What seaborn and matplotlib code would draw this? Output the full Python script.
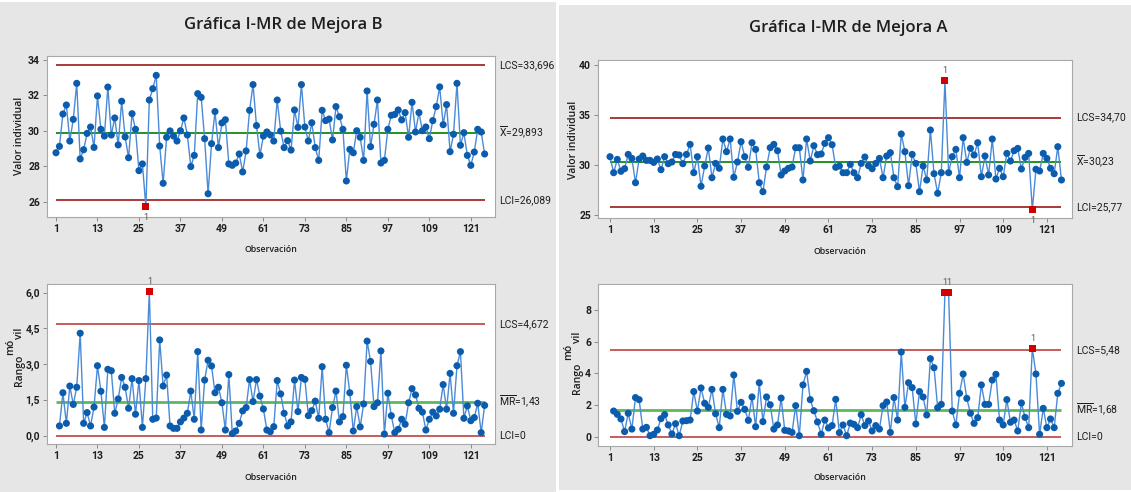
import numpy as np
import pandas as pd
import matplotlib
matplotlib.use("Agg")
import matplotlib.pyplot as plt
import matplotlib.font_manager as fm
import seaborn as sns
from matplotlib.patches import Rectangle

# ---------------- data ----------------
obs_ticks = [1, 13, 25, 37, 49, 61, 73, 85, 97, 109, 121]

# Mejora B - individual values (obs 1..125)
b_indiv = [28.77, 29.13, 30.95, 31.46, 29.43, 30.65, 32.68, 28.42, 28.94, 29.86,
           30.22, 29.07, 31.97, 30.09, 29.71, 32.47, 29.77, 30.73, 29.21, 31.67,
           29.66, 28.49, 30.97, 30.09, 27.76, 28.14, 25.73, 31.74, 32.38, 33.13,
           29.15, 27.05, 29.64, 30.00, 29.71, 29.43, 30.01, 30.73, 29.77, 27.99,
           28.62, 32.10, 31.89, 29.56, 26.46, 29.28, 31.09, 29.06, 30.45, 30.63,
           28.14, 28.06, 28.19, 28.70, 27.69, 28.87, 31.16, 32.61, 30.30, 28.62,
           29.71, 29.94, 29.77, 29.43, 31.74, 29.99, 29.06, 29.45, 28.92, 31.18,
           30.20, 32.61, 30.22, 29.43, 30.46, 29.06, 28.34, 31.16, 30.58, 30.67,
           29.49, 31.37, 30.80, 30.09, 27.18, 28.96, 28.77, 30.01, 29.64, 28.34,
           32.25, 29.11, 30.37, 31.74, 28.19, 28.34, 30.09, 30.88, 30.93, 31.18,
           30.62, 31.03, 29.64, 31.61, 29.94, 31.03, 30.01, 30.22, 29.56, 30.58,
           31.37, 32.48, 30.35, 31.48, 28.83, 29.81, 32.68, 29.19, 29.90, 28.62,
           28.06, 28.81, 30.09, 29.94, 28.70]

# Mejora B - moving ranges (obs 2..125)
b_mr = [0.42, 1.81, 0.53, 2.09, 1.32, 2.04, 4.30, 0.53, 0.98, 0.42,
        1.21, 2.94, 1.87, 0.36, 2.79, 2.73, 0.95, 1.55, 2.45, 2.04,
        1.16, 2.40, 0.91, 2.32, 0.36, 2.40, 6.04, 0.70, 0.75, 4.02,
        2.09, 2.55, 0.42, 0.32, 0.32, 0.59, 0.75, 0.95, 1.88, 0.70,
        3.53, 0.25, 2.34, 3.17, 2.93, 1.81, 2.04, 1.39, 0.25, 2.57,
        0.10, 0.21, 0.53, 1.05, 1.19, 2.36, 1.44, 2.36, 1.67, 1.13,
        0.25, 0.18, 0.39, 2.32, 1.76, 0.95, 0.42, 0.59, 2.34, 1.02,
        2.45, 2.37, 0.85, 1.06, 1.46, 0.74, 2.90, 0.70, 0.14, 1.19,
        1.88, 0.59, 0.81, 2.96, 1.81, 0.21, 1.23, 0.38, 1.34, 3.97,
        3.12, 1.23, 1.39, 3.56, 0.08, 1.79, 0.85, 0.14, 0.28, 0.70,
        0.49, 1.39, 1.98, 1.72, 1.16, 1.00, 0.25, 0.70, 1.00, 0.84,
        1.12, 2.15, 1.12, 2.62, 0.95, 2.94, 3.53, 0.74, 1.26, 0.64,
        0.77, 1.37, 0.14, 1.28]

# Mejora A - individual values (obs 1..125)
a_indiv = [30.80, 29.20, 30.53, 29.34, 29.60, 31.03, 30.63, 28.20, 30.57, 30.87,
           30.43, 30.43, 30.23, 30.57, 29.50, 30.80, 30.10, 30.27, 31.03, 30.97,
           30.10, 31.03, 32.03, 29.20, 30.80, 27.84, 29.87, 31.67, 28.70, 30.13,
           29.64, 32.57, 31.30, 32.57, 28.74, 30.27, 32.30, 30.80, 29.74, 32.20,
           31.53, 28.20, 27.30, 29.77, 31.70, 32.03, 31.40, 28.97, 29.37, 29.64,
           29.77, 31.70, 31.70, 28.47, 32.57, 30.37, 31.90, 31.00, 31.07, 32.13,
           32.70, 32.00, 29.74, 29.87, 29.20, 29.20, 30.03, 29.20, 28.70, 30.13,
           30.77, 29.90, 29.60, 30.13, 30.63, 28.70, 30.87, 31.20, 28.70, 27.80,
           33.07, 31.30, 27.90, 31.03, 30.13, 27.30, 29.87, 28.47, 33.47, 29.10,
           27.14, 29.20, 38.40, 29.20, 30.80, 31.53, 28.70, 32.70, 30.23, 31.63,
           30.97, 32.20, 28.80, 30.87, 28.97, 32.57, 28.57, 29.64, 28.80, 31.13,
           30.37, 31.40, 31.63, 29.57, 30.73, 31.13, 25.50, 29.54, 29.37, 31.13,
           30.63, 29.64, 29.10, 31.80, 28.47]

# Mejora A - moving ranges (obs 2..125)
a_mr = [1.62, 1.41, 1.12, 0.32, 1.48, 0.48, 2.47, 2.34, 0.48, 0.59,
        0.06, 0.15, 0.42, 1.14, 1.39, 0.74, 0.17, 0.82, 0.06, 0.99,
        1.01, 1.05, 2.85, 1.62, 3.08, 2.11, 1.85, 2.99, 1.45, 0.57,
        2.99, 1.41, 1.31, 3.90, 1.60, 2.17, 1.73, 1.03, 2.51, 0.63,
        3.41, 0.95, 2.51, 2.02, 0.48, 0.74, 2.44, 0.40, 0.36, 0.27,
        1.96, 0.06, 3.27, 4.13, 2.34, 1.64, 0.93, 0.15, 1.05, 0.55,
        0.70, 2.36, 0.25, 0.74, 0.06, 0.86, 0.78, 0.57, 1.39, 0.70,
        0.99, 0.36, 0.70, 0.48, 1.96, 2.19, 0.27, 2.47, 1.05, 5.35,
        1.85, 3.41, 3.10, 0.80, 2.85, 2.51, 1.37, 4.93, 4.36, 1.83,
        2.04, 9.13, 9.13, 1.62, 0.74, 2.74, 3.96, 2.42, 1.48, 0.84,
        1.20, 3.27, 2.04, 2.04, 3.58, 3.94, 1.05, 0.74, 2.34, 0.91,
        1.05, 0.36, 2.13, 1.22, 0.57, 5.60, 3.96, 0.15, 1.79, 0.57,
        1.12, 0.57, 2.74, 3.37]

# control limits
b_i_limits = {"LCS": 33.696, "X": 29.893, "LCI": 26.089}
b_mr_limits = {"LCS": 4.672, "MR": 1.43, "LCI": 0.0}
a_i_limits = {"LCS": 34.70, "X": 30.23, "LCI": 25.77}
a_mr_limits = {"LCS": 5.48, "MR": 1.68, "LCI": 0.0}

b_i_labels = ["LCS=33,696", r"$\overline{\mathrm{X}}$=29,893", "LCI=26,089"]
b_mr_labels = ["LCS=4,672", r"$\overline{\mathrm{MR}}$=1,43", "LCI=0"]
a_i_labels = ["LCS=34,70", r"$\overline{\mathrm{X}}$=30,23", "LCI=25,77"]
a_mr_labels = ["LCS=5,48", r"$\overline{\mathrm{MR}}$=1,68", "LCI=0"]

b_i_yticks = [26, 28, 30, 32, 34]
b_mr_yticks = [0.0, 1.5, 3.0, 4.5, 6.0]
b_mr_yticklabels = ["0,0", "1,5", "3,0", "4,5", "6,0"]
a_i_yticks = [25, 30, 35, 40]
a_mr_yticks = [0, 2, 4, 6, 8]

titles = ["Gráfica I-MR de Mejora B", "Gráfica I-MR de Mejora A"]

# ---------------- style ----------------
sns.set_theme(style="white")
names = {f.name for f in fm.fontManager.ttflist}
FONT = "Open Sans" if "Open Sans" in names else "DejaVu Sans"
NARROW = "Liberation Sans Narrow" if "Liberation Sans Narrow" in names else (
    "Roboto" if "Roboto" in names else FONT)
plt.rcParams["font.family"] = [FONT, "DejaVu Sans"]
plt.rcParams["mathtext.fontset"] = "custom"
plt.rcParams["mathtext.rm"] = NARROW
plt.rcParams["mathtext.it"] = NARROW
plt.rcParams["mathtext.bf"] = NARROW

BG = "#e6e6e6"
LINE = "#4a8ad8"
DOT = "#0b5cad"
RED = "#a32a2a"
REDMR = "#c0504d"
OUT = "#d40000"
GREEN = "#138a13"
GREENMR = "#5cb85c"
TXT = "#1e1e1e"

W, H = 1131, 492
fig = plt.figure(figsize=(W / 100, H / 100), dpi=100, facecolor="white")


def fx(x):
    return x / W


def fy(y):
    return 1 - y / H


def box(x0, y0, x1, y1):
    return [x0 / W, 1 - y1 / H, (x1 - x0) / W, (y1 - y0) / H]


fig.patches.append(Rectangle((0, 0), fx(556), 1 - 2 / H, transform=fig.transFigure,
                             facecolor=BG, edgecolor="none", zorder=-5))
fig.patches.append(Rectangle((fx(559), 2 / H), 1 - fx(559), 1 - 7 / H,
                             transform=fig.transFigure, facecolor=BG,
                             edgecolor="none", zorder=-5))


def draw(rect, start, values, limits, labels, ylim, xlim, yticks, yticklabels,
         lim_color, center_color, center_lw, label_x):
    ax = fig.add_axes(box(*rect))
    ax.set_zorder(1)
    ax.set_facecolor("white")
    obs = np.arange(start, start + len(values))
    df = pd.DataFrame({"obs": obs, "val": values})
    keys = list(limits.keys())
    lcs, cen, lci = limits[keys[0]], limits[keys[1]], limits[keys[2]]
    ax.hlines([lcs, lci], 1, 125, colors=lim_color, lw=1.3, zorder=1)
    ax.hlines(cen, 1, 125, colors=center_color, lw=center_lw, zorder=1)
    sns.lineplot(data=df, x="obs", y="val", ax=ax, color=LINE, lw=1.0, zorder=2)
    out = (df["val"] > lcs) | (df["val"] < lci)
    sns.scatterplot(data=df[~out], x="obs", y="val", ax=ax, color=DOT, s=26,
                    edgecolor="none", zorder=3)
    sns.scatterplot(data=df[out], x="obs", y="val", ax=ax, color=OUT, s=26,
                    marker="s", edgecolor="none", zorder=4)
    for _, r in df[out].iterrows():
        dy = 4 if r["val"] > lcs else -11
        ax.annotate("1", (r["obs"], r["val"]), xytext=(0, dy),
                    textcoords="offset points", ha="center", va="bottom",
                    fontsize=6.5, color="#555555", family=NARROW)
    ax.set_xlim(*xlim)
    ax.set_ylim(*ylim)
    ax.set_xticks(obs_ticks)
    ax.set_xticklabels([str(t) for t in obs_ticks])
    ax.set_yticks(yticks)
    ax.set_yticklabels(yticklabels)
    ax.tick_params(axis="both", labelsize=7.5, colors=TXT, length=3, width=0.7,
                   pad=2, left=True, bottom=True, direction="out")
    ax.tick_params(axis="both", color="#8a8a8a")
    for lab in ax.get_xticklabels() + ax.get_yticklabels():
        lab.set_family(NARROW)
        lab.set_fontweight("semibold")
    for s in ax.spines.values():
        s.set_color("#a8a8a8")
        s.set_linewidth(0.8)
    ax.set_xlabel("")
    ax.set_ylabel("")
    for val, lab in zip([lcs, cen, lci], labels):
        yy = ax.transData.transform((0, val))[1]
        fig.text(fx(label_x), yy / fig.dpi / fig.get_size_inches()[1], lab,
                 ha="left", va="center", fontsize=7.5, color=TXT, family=NARROW)
    return ax


# Mejora B
draw((47, 56, 495, 217), 1, b_indiv, b_i_limits, b_i_labels, (25.15, 34.22),
     (-1.6, 128), b_i_yticks, [str(t) for t in b_i_yticks], RED, GREEN, 1.3, 499)
draw((47, 284, 495, 444), 2, b_mr, b_mr_limits, b_mr_labels, (-0.335, 6.36),
     (-1.6, 128), b_mr_yticks, b_mr_yticklabels, REDMR, GREENMR, 2.0, 499)
# Mejora A
draw((598, 60, 1072, 218), 1, a_indiv, a_i_limits, a_i_labels, (24.67, 40.47),
     (-2.3, 127.9), a_i_yticks, [str(t) for t in a_i_yticks], RED, GREEN, 1.3, 1076)
draw((598, 284, 1072, 446), 2, a_mr, a_mr_limits, a_mr_labels, (-0.59, 9.65),
     (-2.3, 127.9), a_mr_yticks, [str(t) for t in a_mr_yticks], REDMR, GREENMR, 2.0, 1076)

# titles
fig.text(fx(283), fy(25), titles[0], ha="center", va="center", fontsize=12,
         fontweight="semibold", color=TXT)
fig.text(fx(848), fy(28), titles[1], ha="center", va="center", fontsize=12,
         fontweight="semibold", color=TXT)

# axis labels
for xc, yc in [(271, 249), (271, 478), (840, 252), (840, 478)]:
    fig.text(fx(xc), fy(yc), "Observación", ha="center", va="center",
             fontsize=6.3, fontweight="semibold", color=TXT)
for xc, yc in [(20, 136), (574, 140)]:
    fig.text(fx(xc), fy(yc), "Valor individual", ha="center", va="center",
             rotation=90, fontsize=7.5, fontweight="semibold", color=TXT)
# "Rango móvil" label as rendered in the source (split in pieces)
for xc, yc, x2, y2, x3, y3 in [(20, 370, 11, 347, 20, 333),
                               (578, 378, 569, 352, 578, 337)]:
    fig.text(fx(xc), fy(yc), "Rango", ha="center", va="center", rotation=90,
             fontsize=7.5, fontweight="semibold", color=TXT)
    fig.text(fx(x2), fy(y2), "mó", ha="center", va="center", rotation=90,
             fontsize=7.5, fontweight="semibold", color=TXT)
    fig.text(fx(x3), fy(y3), "vil", ha="center", va="center", rotation=90,
             fontsize=7.5, fontweight="semibold", color=TXT)

fig.savefig("out.png", dpi=100, facecolor="white")
